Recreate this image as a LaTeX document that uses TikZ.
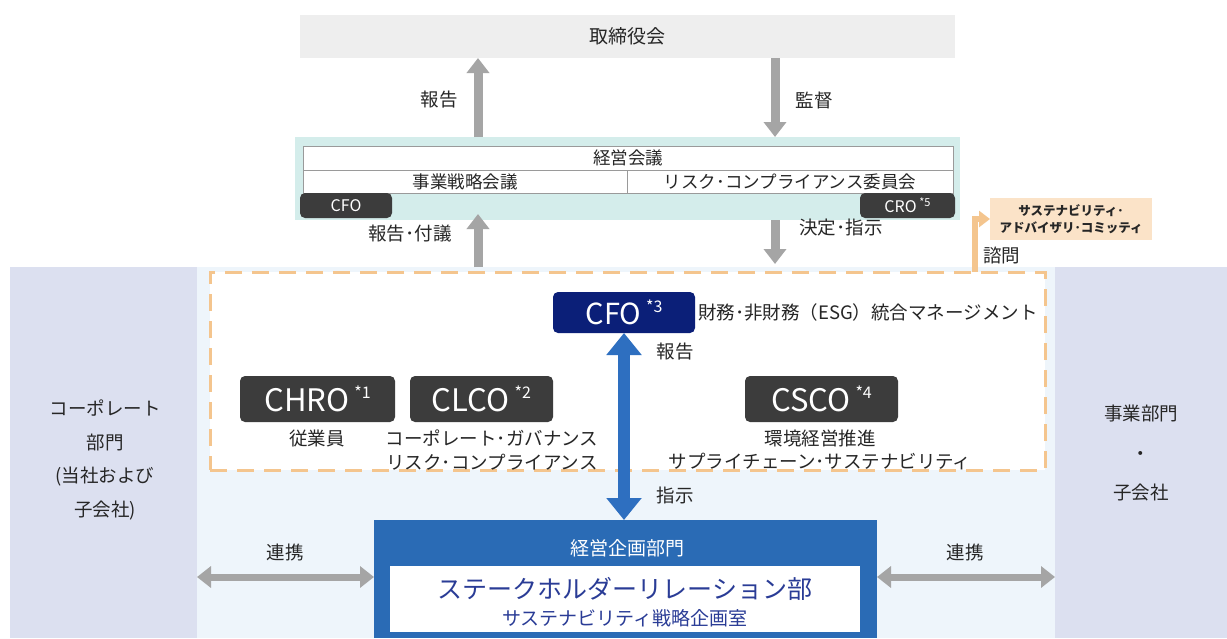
\documentclass[tikz,border=0pt]{standalone}
\usepackage{fontspec}
\setmainfont{Noto Sans CJK JP}
\usetikzlibrary{arrows.meta,calc}
\definecolor{boardc}{HTML}{EEEEEE}
\definecolor{tealc}{HTML}{D4EDEB}
\definecolor{sidec}{HTML}{DCE0F0}
\definecolor{midc}{HTML}{EEF5FB}
\definecolor{orangec}{HTML}{F4C58E}
\definecolor{peachc}{HTML}{FBE3C8}
\definecolor{navyc}{HTML}{0B1F78}
\definecolor{kbluec}{HTML}{2A6BB5}
\definecolor{bluearr}{HTML}{2E6FC0}
\definecolor{darkc}{HTML}{3C3C3C}
\definecolor{grayarr}{HTML}{A5A5A5}
\definecolor{txt}{HTML}{262626}
\definecolor{tblline}{HTML}{9A9A9A}
\definecolor{srtxt}{HTML}{2A3C96}
\newcommand\supx[1]{\raisebox{0.42em}{\fontsize{16}{16}\selectfont #1}}
\newcommand\fs[1]{\fontsize{#1}{#1}\selectfont}
\tikzset{
  every node/.style={inner sep=0pt, outer sep=0pt, text=txt, font=\fs{18.5}},
  panel/.style={anchor=north west, draw=none},
  darkbox/.style={anchor=north west, fill=darkc, rounded corners=5pt, text=white},
  cell/.style={anchor=north west, draw=tblline, line width=0.8pt, fill=white, font=\fs{17.5}},
  garrow/.style={draw=grayarr, line width=9pt, -{Triangle[width=22pt,length=15pt]}},
  gdarrow/.style={draw=grayarr, line width=7pt, {Triangle[width=21pt,length=14pt]}-{Triangle[width=21pt,length=14pt]}},
  barrow/.style={draw=bluearr, line width=12pt, {Triangle[width=34pt,length=22pt]}-{Triangle[width=34pt,length=22pt]}},
  oarrow/.style={draw=orangec, line width=6pt, -{Triangle[width=16pt,length=11pt]}},
}
\begin{document}
\begin{tikzpicture}[x=1pt,y=-1pt]
\useasboundingbox[fill=white] (0,0) rectangle (1227,638);
% board
\node[panel, fill=boardc, minimum width=655, minimum height=43, font=\fs{19}] (board) at (300,15) {取締役会};
% teal band
\node[panel, fill=tealc, minimum width=665, minimum height=83] (band) at (295,137) {};
\node[cell, minimum width=650, minimum height=24] (keiei) at (303,146) {経営会議};
\node[cell, minimum width=324, minimum height=23] (jigyo) at (303,170) {事業戦略会議};
\node[cell, minimum width=326, minimum height=23] (risk) at (627,170) {リスク･コンプライアンス委員会};
\node[darkbox, minimum width=92, minimum height=25, font=\fs{16}] (cfo1) at (300,193) {CFO};
\node[darkbox, minimum width=95, minimum height=25, font=\fs{16}] (cro) at (860,193) {CRO\,\raisebox{0.4em}{\fs{11}*5}};
% middle region
\node[panel, fill=midc, minimum width=858, minimum height=371] (mid) at (197,267) {};
\node[panel, fill=white, draw=orangec, line width=3pt, dash pattern=on 17pt off 10pt, minimum width=835, minimum height=198] (dash) at (210,272) {};
% side panels
\node[panel, fill=sidec, minimum width=187, minimum height=371] (left) at (10,267) {};
\node[panel, fill=sidec, minimum width=172, minimum height=371] (right) at (1055,267) {};
\node[align=center, font=\fontsize{18.5}{33.5}\selectfont] (lefttxt) at (105,460) {コーポレート\\部門\\(当社および\\子会社)};
\node[align=center, font=\fontsize{18.5}{39.5}\selectfont] (righttxt) at (1141,453) {事業部門\\・\\子会社};
% arrows board <-> band
\coordinate (xa) at (478,0);
\coordinate (xb) at (775,0);
\coordinate (xo) at (975,0);
\draw[garrow] (band.north -| xa) -- (board.south -| xa);
\draw[garrow] (board.south -| xb) -- (band.north -| xb);
\node (l1) at (439,100) {報告};
\node (l2) at (814,100) {監督};
\draw[garrow] (mid.north -| xa) -- ($(band.south -| xa)+(0,-6)$);
\draw[garrow] (band.south -| xb) -- ($(dash.north -| xb)+(0,-8)$);
\node (l3) at (410,234) {報告･付議};
\node (l4) at (841,228) {決定･指示};
% sustainability advisory
\node[panel, fill=peachc, minimum width=162, minimum height=42, align=center, font=\bfseries\fontsize{12.5}{17}\selectfont] (sac) at (990,198) {サステナビリティ･\\アドバイザリ･コミッティ};
\draw[oarrow] (dash.north -| xo) |- (sac.west);
\node[anchor=west] (l5) at (983,255) {諮問};
% CFO *3
\node[panel, fill=navyc, rounded corners=5pt, minimum width=142, minimum height=41, text=white, font=\fs{29}] (cfo) at (553,292) {CFO\,\supx{*3}};
\node[anchor=west] (l6) at (698,312) {財務･非財務（ESG）統合マネージメント};
% officers
\node[darkbox, minimum width=155, minimum height=46, font=\fs{31}] (chro) at (240,376) {CHRO\,\supx{*1}};
\node[darkbox, minimum width=143, minimum height=46, font=\fs{31}] (clco) at (410,376) {CLCO\,\supx{*2}};
\node[darkbox, minimum width=153, minimum height=46, font=\fs{31}] (csco) at (745,376) {CSCO\,\supx{*4}};
\node (d1) at (317,438) {従業員};
\node (d2) at (492,438) {コーポレート･ガバナンス};
\node (d3) at (492,462) {リスク･コンプライアンス};
\node (d4) at (820,438) {環境経営推進};
\node (d5) at (820,462) {サプライチェーン･サステナビリティ};
% planning dept
\node[panel, fill=kbluec, minimum width=503, minimum height=118] (kikaku) at (374,520) {};
\node[text=white, font=\fs{19}] (kt) at (627,548) {経営企画部門};
\node[panel, fill=white, minimum width=470, minimum height=66] (sr) at (390,566) {};
\node[text=srtxt, font=\fs{25}] (srt) at (625,589) {ステークホルダーリレーション部};
\node[text=srtxt, font=\fs{19}] (srs) at (625,618) {サステナビリティ戦略企画室};
% blue double arrow
\draw[barrow] (cfo.south) -- (cfo.south |- kikaku.north);
\node (l7) at (675,352) {報告};
\node (l8) at (675,495) {指示};
% liaison arrows
\coordinate (yl) at (0,577);
\draw[gdarrow] (left.east |- yl) -- (kikaku.west |- yl);
\draw[gdarrow] (kikaku.east |- yl) -- (right.west |- yl);
\node (l9) at (285,552) {連携};
\node (l10) at (965,552) {連携};
\end{tikzpicture}
\end{document}
